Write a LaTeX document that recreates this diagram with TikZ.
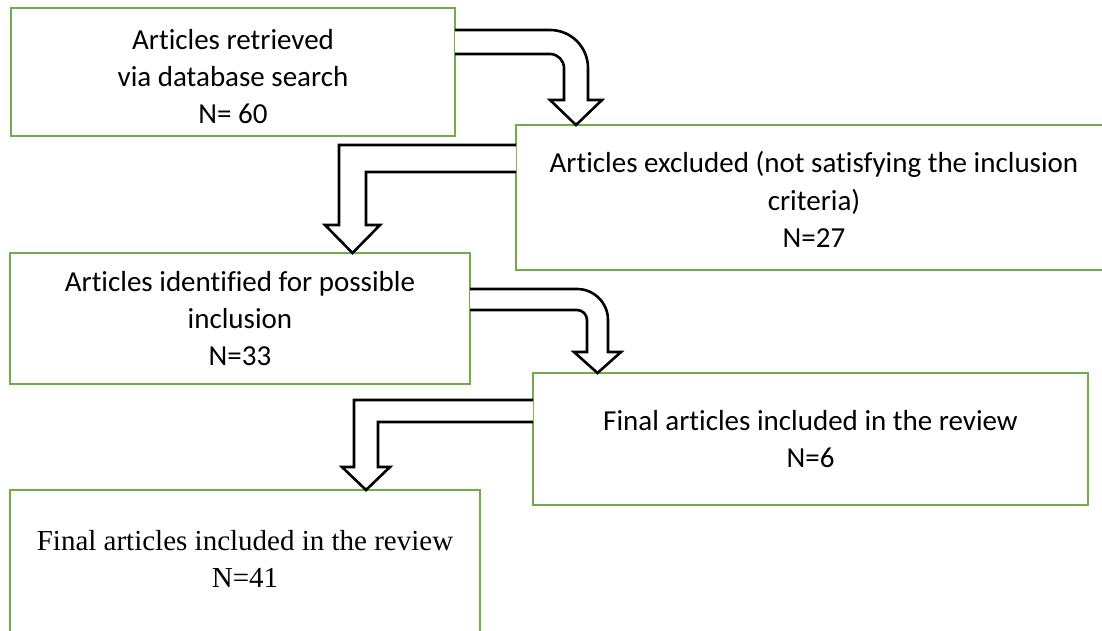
\documentclass[tikz,border=0pt]{standalone}
\usepackage{fontspec}
\setmainfont{Carlito}[Ligatures=NoCommon]
\newfontfamily\tnrfont{Liberation Serif}
\definecolor{boxgreen}{HTML}{70AD47}
\tikzset{
  fbox/.style={draw=boxgreen, line width=2.8pt, fill=white, rectangle, anchor=north west,
    inner sep=0pt, outer sep=0pt, align=center,
    font=\fontsize{29}{37}\selectfont},
  bigarrow/.style={draw=black, fill=white, line width=2.6pt, line join=miter}
}
\begin{document}
\begin{tikzpicture}[x=1pt,y=-1pt]
\useasboundingbox (0,0) rectangle (1102,631);
\clip (0,0) rectangle (1102,631);
\fill[white] (0,0) rectangle (1102,631);

% boxes
\node[fbox, minimum width=444pt, minimum height=128pt] (b1) at (11,8)
  {\rule{0pt}{30pt}Articles retrieved\\ via database search\\ N= 60};
\node[fbox, minimum width=596pt, minimum height=145pt] (b2) at (516,125)
  {\rule{0pt}{25pt}Articles excluded (not satisfying the inclusion\\ criteria)\\ N=27};
\node[fbox, minimum width=460pt, minimum height=131pt] (b3) at (10,253)
  {Articles identified for possible\\ inclusion\\ N=33};
\node[fbox, minimum width=555pt, minimum height=132pt] (b4) at (533,373)
  {Final articles included in the review\\ N=6};
\node[fbox, minimum width=470pt, minimum height=146pt, font=\tnrfont\fontsize{29}{37}\selectfont] (b5) at (10,490)
  {Final articles included in the review\\ N=41\rule[-8pt]{0pt}{8pt}};

% arrow b1 -> b2 (bent, rounded)
\filldraw[bigarrow] (b1.east |- 0,30) -- (550,30)
  .. controls (571,30) and (588,47) .. (588,68)
  -- (588,100) -- (602,100) -- (576,0 |- b2.north) -- (550,100) -- (564,100)
  -- (564,68) .. controls (564,60.3) and (557.7,54) .. (550,54)
  -- (b1.east |- 0,54);

% arrow b2 -> b3 (sharp)
\filldraw[bigarrow] (b2.west |- 0,145) -- (339,145) -- (339,225) -- (325,225)
  -- (352.5,0 |- b3.north) -- (380,225) -- (366,225) -- (366,172)
  -- (b2.west |- 0,172);

% arrow b3 -> b4 (bent, rounded)
\filldraw[bigarrow] (b3.east |- 0,289) -- (577,289)
  .. controls (594.1,289) and (608,302.9) .. (608,320)
  -- (608,352) -- (621,352) -- (597.5,0 |- b4.north) -- (574,352) -- (587,352)
  -- (587,320) .. controls (587,314.5) and (582.5,310) .. (577,310)
  -- (b3.east |- 0,310);

% arrow b4 -> b5 (sharp)
\filldraw[bigarrow] (b4.west |- 0,400) -- (354,400) -- (354,467) -- (342,467)
  -- (366,0 |- b5.north) -- (390,467) -- (378,467) -- (378,422)
  -- (b4.west |- 0,422);
\end{tikzpicture}
\end{document}
